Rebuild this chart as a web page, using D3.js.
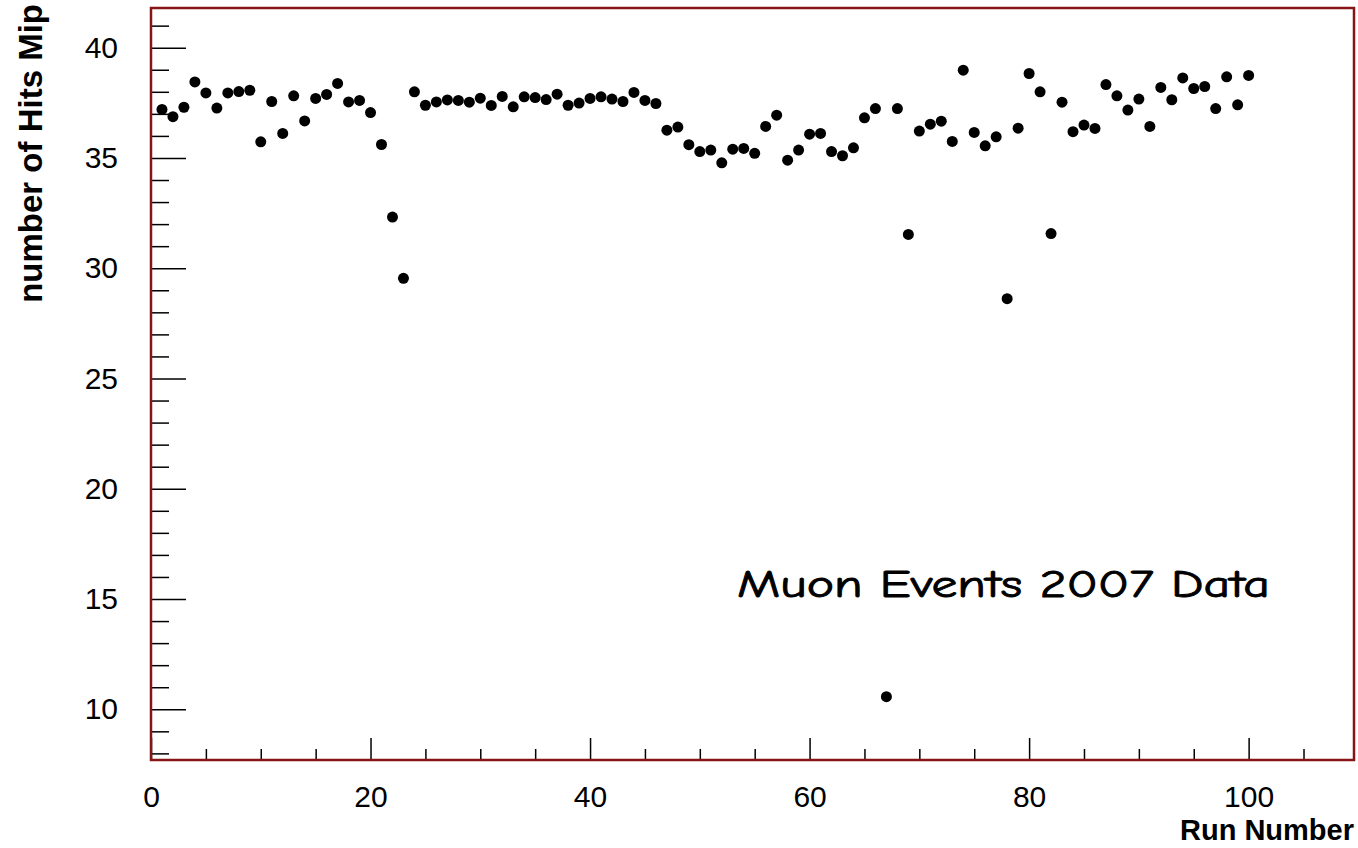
<!DOCTYPE html>
<html>
<head>
<meta charset="utf-8">
<script src="https://cdn.jsdelivr.net/npm/d3@7"></script>
<style>
  body { margin: 0; background: #fff; }
  text { font-family: "Liberation Sans", Arial, sans-serif; }
</style>
</head>
<body>
<script>
// run numbers 1..100 and mean number of hits (Mip) per run
const runs = [1,2,3,4,5,6,7,8,9,10,11,12,13,14,15,16,17,18,19,20,
  21,22,23,24,25,26,27,28,29,30,31,32,33,34,35,36,37,38,39,40,
  41,42,43,44,45,46,47,48,49,50,51,52,53,54,55,56,57,58,59,60,
  61,62,63,64,65,66,67,68,69,70,71,72,73,74,75,76,77,78,79,80,
  81,82,83,84,85,86,87,88,89,90,91,92,93,94,95,96,97,98,99,100];
const hits = [37.20,36.87,37.30,38.45,37.95,37.26,37.95,38.01,38.07,35.73,
  37.56,36.11,37.82,36.68,37.70,37.88,38.38,37.54,37.61,37.06,
  35.61,32.32,29.54,38.00,37.39,37.54,37.63,37.61,37.53,37.71,
  37.38,37.79,37.32,37.77,37.74,37.65,37.89,37.39,37.49,37.70,
  37.77,37.67,37.56,37.97,37.61,37.47,36.26,36.40,35.60,35.29,
  35.36,34.78,35.40,35.43,35.21,36.43,36.94,34.90,35.36,36.08,
  36.11,35.29,35.10,35.46,36.82,37.24,10.57,37.24,31.53,36.22,
  36.53,36.67,35.75,38.98,36.16,35.55,35.96,28.62,36.35,38.83,
  38.00,31.57,37.53,36.19,36.49,36.34,38.33,37.82,37.17,37.67,
  36.43,38.20,37.64,38.63,38.15,38.24,37.24,38.68,37.41,38.74];

const xMajor = [0, 20, 40, 60, 80, 100];
const xMinor = [5,10,15,25,30,35,45,50,55,65,70,75,85,90,95,105];
const yMajor = [10, 15, 20, 25, 30, 35, 40];
const yMinor = [8,9,11,12,13,14,16,17,18,19,21,22,23,24,26,27,28,29,31,32,33,34,36,37,38,39,41];

const W = 1358, H = 848;
const L = 151, R = 1354, T = 8, B = 760;

const svg = d3.select("body").append("svg")
  .attr("width", W).attr("height", H);

const x = d3.scaleLinear().domain([0, 109.6]).range([L, R]);
const y = d3.scaleLinear().domain([7.7, 41.8]).range([B, T]);

// x axis: major + minor ticks pointing into the frame
svg.append("g")
  .attr("transform", `translate(0,${B})`)
  .call(d3.axisBottom(x).tickValues(xMajor).tickSize(-22).tickPadding(26).tickFormat(d3.format("d")))
  .call(g => g.select(".domain").remove())
  .call(g => g.selectAll("text").attr("font-size", 30).attr("fill", "#000")
    .style("font-family", "'Liberation Sans', Arial, sans-serif"))
  .call(g => g.selectAll("line").attr("stroke", "#000").attr("stroke-width", 1.5));

svg.append("g")
  .attr("transform", `translate(0,${B})`)
  .call(d3.axisBottom(x).tickValues(xMinor).tickSize(-11).tickFormat(""))
  .call(g => g.select(".domain").remove())
  .call(g => g.selectAll("line").attr("stroke", "#000").attr("stroke-width", 1.5));

// y axis
svg.append("g")
  .attr("transform", `translate(${L},0)`)
  .call(d3.axisLeft(y).tickValues(yMajor).tickSize(-35).tickPadding(33).tickFormat(d3.format("d")))
  .call(g => g.select(".domain").remove())
  .call(g => g.selectAll("text").attr("font-size", 30).attr("fill", "#000")
    .style("font-family", "'Liberation Sans', Arial, sans-serif"))
  .call(g => g.selectAll("line").attr("stroke", "#000").attr("stroke-width", 1.5));

svg.append("g")
  .attr("transform", `translate(${L},0)`)
  .call(d3.axisLeft(y).tickValues(yMinor).tickSize(-18).tickFormat(""))
  .call(g => g.select(".domain").remove())
  .call(g => g.selectAll("line").attr("stroke", "#000").attr("stroke-width", 1.5));

// frame
svg.append("rect")
  .attr("x", L).attr("y", T)
  .attr("width", R - L).attr("height", B - T)
  .attr("fill", "none")
  .attr("stroke", "#861515")
  .attr("stroke-width", 2.5);

// data points
svg.append("g").selectAll("circle")
  .data(runs)
  .enter()
  .append("circle")
  .attr("cx", (d, i) => x(d))
  .attr("cy", (d, i) => y(hits[i]))
  .attr("r", 5.5)
  .attr("fill", "#000");

// axis titles
svg.append("text")
  .attr("x", R).attr("y", 840)
  .attr("text-anchor", "end")
  .attr("font-size", 29).attr("font-weight", "bold")
  .text("Run Number");

svg.append("text")
  .attr("transform", `translate(42,${T - 4}) rotate(-90)`)
  .attr("text-anchor", "end")
  .attr("font-size", 33).attr("font-weight", "bold")
  .text("number of Hits Mip");

// annotation
svg.append("text")
  .attr("x", 737).attr("y", 597)
  .attr("font-size", 39)
  .attr("textLength", 533)
  .attr("lengthAdjust", "spacingAndGlyphs")
  .attr("stroke", "#000").attr("stroke-width", 0.9)
  .style("font-family", "'Comic Sans MS', 'Comic Neue', 'DejaVu Sans', sans-serif")
  .text("Muon Events 2007 Data");
</script>
</body>
</html>
